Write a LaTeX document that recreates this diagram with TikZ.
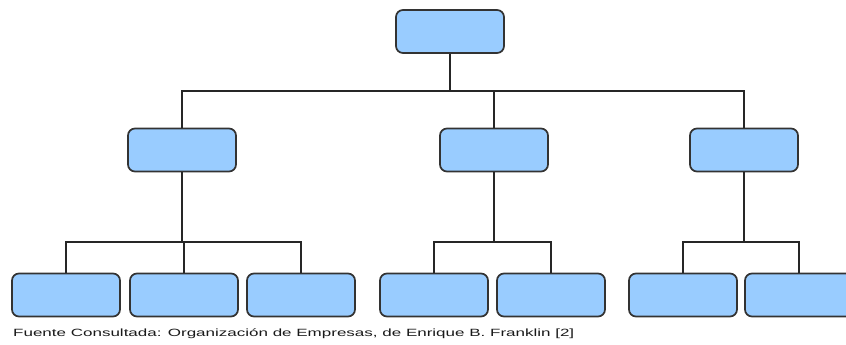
\documentclass[tikz,border=0pt]{standalone}
\usepackage{fontspec}
\setmainfont{Liberation Sans}
\usepackage{graphicx}
\definecolor{boxfill}{HTML}{99CCFF}
\definecolor{boxline}{HTML}{333333}
\tikzset{
  unit/.style={draw=boxline, fill=boxfill, line width=1.7pt, rounded corners=7pt,
    minimum width=108pt, minimum height=43pt, inner sep=0pt},
  link/.style={draw=black!85, line width=1.6pt},
}
\begin{document}
\begin{tikzpicture}[x=1pt,y=-1pt]
\useasboundingbox (0,0) rectangle (846,345);
\clip (0,0) rectangle (846,345);
% top level
\node[unit] (top) at (450,31.5) {};
% second level
\node[unit] (m1) at (182,150) {};
\node[unit] (m2) at (494,150) {};
\node[unit] (m3) at (744,150) {};
% third level
\node[unit] (b1) at (66,295) {};
\node[unit] (b2) at (184,295) {};
\node[unit] (b3) at (301,295) {};
\node[unit] (b4) at (434,295) {};
\node[unit] (b5) at (551,295) {};
\node[unit] (b6) at (683,295) {};
\node[unit] (b7) at (799,295) {};
% bus levels
\coordinate (busA) at (0,91);
\coordinate (busB) at (0,242);
% connectors: stem, bus and drops, each drawn once
\draw[link] (top.south) -- (top.south |- busA);
\draw[link] (m1.north) |- (busA -| m3.north) -- (m3.north);
\draw[link] (m2.north) -- (m2.north |- busA);
\draw[link] (m1.south) -- (m1.south |- busB);
\draw[link] (b1.north) |- (busB -| b3.north) -- (b3.north);
\draw[link] (b2.north) -- (b2.north |- busB);
\draw[link] (m2.south) -- (m2.south |- busB);
\draw[link] (b4.north) |- (busB -| b5.north) -- (b5.north);
\draw[link] (m3.south) -- (m3.south |- busB);
\draw[link] (b6.north) |- (busB -| b7.north) -- (b7.north);
% source note
\node[anchor=base west, inner sep=0pt, font=\fontsize{10.5}{12}\selectfont, text=black!90] (src) at (13,336)
  {\resizebox{561pt}{\height}{Fuente Consultada: Organización de Empresas, de Enrique B. Franklin [2]}};
\end{tikzpicture}
\end{document}
